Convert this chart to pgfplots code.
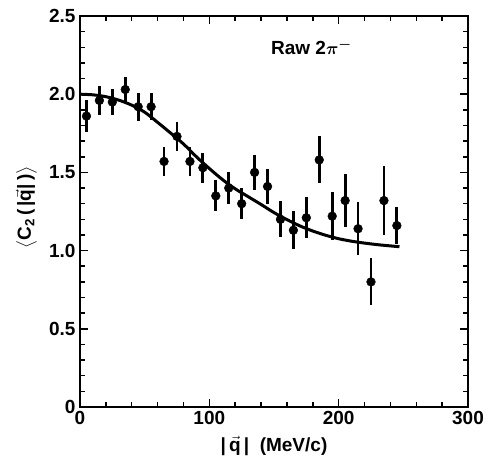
\documentclass[border=0pt]{standalone}
\usepackage{amsmath}
\usepackage{fontspec}
\setmainfont{Liberation Sans}
\usepackage{pgfplots}
\pgfplotsset{compat=1.18}

\pgfplotstableread{
q    c     e
5    1.86  0.10
15   1.96  0.09
25   1.95  0.085
35   2.03  0.08
45   1.92  0.09
55   1.92  0.085
65   1.57  0.09
75   1.73  0.095
85   1.57  0.09
95   1.53  0.095
105  1.35  0.10
115  1.40  0.10
125  1.30  0.10
135  1.50  0.11
145  1.41  0.11
155  1.20  0.115
165  1.13  0.12
175  1.21  0.13
185  1.58  0.15
195  1.22  0.155
205  1.32  0.17
215  1.14  0.17
225  0.80  0.15
235  1.32  0.22
245  1.16  0.12
}\rawdata

\begin{document}
\begin{tikzpicture}
\begin{axis}[
  name=ax,
  scale only axis,
  width=388pt,
  height=391pt,
  xmin=0, xmax=300,
  ymin=0, ymax=2.5,
  xtick={0,100,200,300},
  ytick={0,0.5,1,1.5,2,2.5},
  yticklabels={0,0.5,1.0,1.5,2.0,2.5},
  minor x tick num=4,
  minor y tick num=4,
  tick align=inside,
  major tick length=8pt,
  minor tick length=5pt,
  every tick/.style={black, line width=1.5pt},
  axis line style={line width=2pt},
  /pgf/number format/assume math mode=true,
  tick label style={font=\fontsize{19}{22}\selectfont\bfseries},
  xticklabel style={yshift=-1pt},
  yticklabel style={xshift=-1pt},
  label style={font=\fontsize{19}{22}\selectfont\bfseries},
  xlabel={|\,$\vec{\text{\bfseries q}}$\,|\ \ (MeV/c)},
  ylabel={$\boldsymbol{\big\langle}$C$_{\mathbf 2}$\,(\,|$\vec{\text{\bfseries q}}$|\,)$\boldsymbol{\big\rangle}$},
  xlabel style={at={(axis description cs:0.5,-0.1)}, anchor=center},
  ylabel style={at={(axis description cs:-0.138,0.51)}, anchor=center},
  clip=false,
]
\addplot[
  black,
  only marks,
  mark=*,
  mark size=4.4pt,
  error bars/.cd,
  y dir=both,
  y explicit,
  error mark=none,
  error bar style={line width=2.8pt},
] table[x=q, y=c, y error=e] {\rawdata};

% fitted curve
\addplot[black, line width=3pt, smooth] coordinates {
  (0,2.000) (10,1.996) (20,1.984) (30,1.962) (40,1.930) (50,1.885)
  (60,1.820) (70,1.752) (80,1.682) (90,1.600) (100,1.525) (110,1.455)
  (120,1.395) (130,1.345) (140,1.295) (150,1.243) (160,1.198)
  (170,1.158) (180,1.125) (190,1.098) (200,1.076) (210,1.060)
  (220,1.048) (230,1.038) (240,1.030) (247,1.025)
};

\node[font=\fontsize{19}{22}\selectfont\bfseries] at (axis cs:179,2.30)
  {Raw 2$\boldsymbol{\pi}^{\boldsymbol{-}}$};
\end{axis}
\pgfresetboundingbox
\useasboundingbox ([xshift=-80pt,yshift=-51pt]ax.south west)
  rectangle ([xshift=22pt,yshift=16pt]ax.north east);
\end{tikzpicture}
\end{document}
